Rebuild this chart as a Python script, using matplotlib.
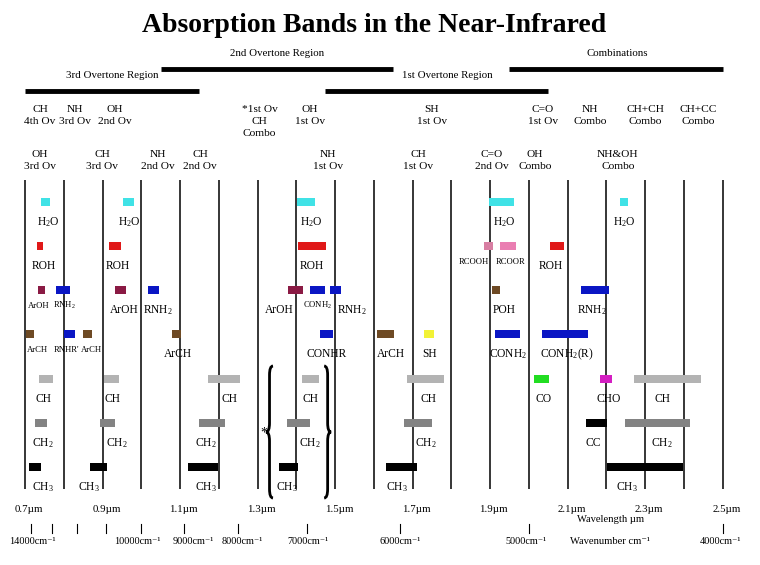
import numpy as np
import matplotlib
matplotlib.use("Agg")
import matplotlib.pyplot as plt
from matplotlib.path import Path
from matplotlib.patches import PathPatch

plt.rcParams['font.family'] = ['Liberation Serif', 'DejaVu Serif']
plt.rcParams['mathtext.fontset'] = 'custom'
plt.rcParams['mathtext.rm'] = 'Liberation Serif'
plt.rcParams['mathtext.it'] = 'Liberation Serif:italic'
plt.rcParams['mathtext.bf'] = 'Liberation Serif:bold'

# ---- data (wavelengths in um) ----
region_names = ["3rd Overtone Region", "2nd Overtone Region", "1st Overtone Region", "Combinations"]
region_start = [0.700, 1.051, 1.474, 1.949]
region_end = [1.149, 1.650, 2.050, 2.501]
region_label_x = [0.925, 1.350, 1.789, 2.228]

top_labels = [("CH\n4th Ov", 0.739), ("NH\n3rd Ov", 0.829), ("OH\n2nd Ov", 0.932),
              ("*1st Ov\nCH\nCombo", 1.305), ("OH\n1st Ov", 1.435), ("SH\n1st Ov", 1.750),
              ("C=O\n1st Ov", 2.037), ("NH\nCombo", 2.158), ("CH+CH\nCombo", 2.300),
              ("CH+CC\nCombo", 2.437)]
second_labels = [("OH\n3rd Ov", 0.739), ("CH\n3rd Ov", 0.899), ("NH\n2nd Ov", 1.043),
                 ("CH\n2nd Ov", 1.152), ("NH\n1st Ov", 1.482), ("CH\n1st Ov", 1.714),
                 ("C=O\n2nd Ov", 1.905), ("OH\nCombo", 2.016), ("NH&OH\nCombo", 2.230)]

# (label, band start, band end, label x)
water = [("H$_2$O", 0.741, 0.765, 0.759), ("H$_2$O", 0.953, 0.981, 0.968),
         ("H$_2$O", 1.402, 1.448, 1.438), ("H$_2$O", 1.897, 1.961, 1.936),
         ("H$_2$O", 2.235, 2.256, 2.246)]
alcohol = [("ROH", 0.731, 0.746, 0.749), ("ROH", 0.917, 0.948, 0.940),
           ("ROH", 1.405, 1.477, 1.441), ("ROH", 2.055, 2.091, 2.057)]
acids = [("RCOOH", 1.885, 1.908, 1.858), ("RCOOR", 1.926, 1.967, 1.954)]
phenol_amine = [("ArOH", 0.932, 0.961, 0.955), ("RNH$_2$", 1.017, 1.046, 1.043),
                ("ArOH", 1.379, 1.417, 1.355), ("RNH$_2$", 1.487, 1.515, 1.544),
                ("POH", 1.905, 1.926, 1.936), ("RNH$_2$", 2.135, 2.207, 2.163)]
phenol_amine_minor = [("ArOH", 0.734, 0.752, 0.736), ("RNH$_2$", 0.780, 0.816, 0.803),
                      ("CONH$_2$", 1.435, 1.474, 1.454)]
aromatic_amide = [("ArCH", 1.079, 1.103, 1.095), ("CONHR", 1.461, 1.495, 1.479),
                  ("ArCH", 1.608, 1.652, 1.645), ("SH", 1.730, 1.755, 1.745),
                  ("CONH$_2$", 1.913, 1.977, 1.946), ("CONH$_2$(R)", 2.034, 2.153, 2.099)]
aromatic_amide_minor = [("ArCH", 0.703, 0.723, 0.731), ("RNHR'", 0.801, 0.829, 0.808),
                        ("ArCH", 0.850, 0.873, 0.872)]
methine = [("CH", 0.736, 0.772, 0.749), ("CH", 0.904, 0.943, 0.927),
           ("CH", 1.172, 1.255, 1.229), ("CH", 1.415, 1.459, 1.438),
           ("CH", 1.686, 1.781, 1.740), ("CO", 2.014, 2.052, 2.037),
           ("CHO", 2.184, 2.215, 2.207), ("CH", 2.272, 2.445, 2.346)]
methylene = [("CH$_2$", 0.726, 0.757, 0.746), ("CH$_2$", 0.894, 0.932, 0.937),
             ("CH$_2$", 1.149, 1.216, 1.167), ("CH$_2$", 1.376, 1.435, 1.435),
             ("CH$_2$", 1.678, 1.750, 1.735), ("CC", 2.148, 2.202, 2.166),
             ("CH$_2$", 2.248, 2.416, 2.344)]
methyl = [("CH$_3$", 0.710, 0.741, 0.746), ("CH$_3$", 0.868, 0.912, 0.865),
          ("CH$_3$", 1.121, 1.198, 1.167), ("CH$_3$", 1.355, 1.405, 1.376),
          ("CH$_3$", 1.632, 1.712, 1.660), ("CH$_3$", 2.202, 2.398, 2.254)]

wl_ticks = [0.7, 0.9, 1.1, 1.3, 1.5, 1.7, 1.9, 2.1, 2.3, 2.5]
wn_ticks = [14000, 13000, 12000, 11000, 10000, 9000, 8000, 7000, 6000, 5000, 4000]
wn_labeled = [14000, 10000, 9000, 8000, 7000, 6000, 5000, 4000]
wn_label_x = [0.718, 0.989, 1.134, 1.260, 1.430, 1.668, 1.993, 2.494]

blue = "#0a16c4"
brown = "#6e4a24"
colors = {"H$_2$O": "#40e2e6", "ROH": "#e01818", "ArOH": "#8a1a44",
          "RNH$_2$": blue, "RNHR'": blue, "CONH$_2$": blue, "CONHR": blue,
          "CONH$_2$(R)": blue, "ArCH": brown, "POH": brown, "SH": "#f2f236",
          "RCOOH": "#d77ea2", "RCOOR": "#ea7eb2", "CH": "#b3b3b3",
          "CH$_2$": "#838383", "CH$_3$": "black", "CC": "black",
          "CO": "#22dd22", "CHO": "#d41ec2"}

# ---- figure: x in um, y in pixels from the top ----
fig = plt.figure(figsize=(7.6, 5.65), dpi=100)
ax = fig.add_axes([0, 0, 1, 1])
px = 387.5  # pixels per um
ax.set_xlim(0.7 - 25 / px, 0.7 + 735 / px)
ax.set_ylim(565, 0)
ax.axis('off')

ax.text(1.6, 32, "Absorption Bands in the Near-Infrared", ha='center', va='baseline',
        fontsize=20, fontweight='bold')

for i, name in enumerate(region_names):
    yb = 91 if i % 2 == 0 else 69
    ax.plot([region_start[i], region_end[i]], [yb, yb], color='black', lw=3.5,
            solid_capstyle='butt')
    ax.text(region_label_x[i], yb - 15, name, ha='center', va='center', fontsize=7.8)

for txt, x in top_labels:
    ax.text(x, 105, txt, ha='center', va='top', fontsize=8.2, linespacing=1.4)
for txt, x in second_labels:
    ax.text(x, 150, txt, ha='center', va='top', fontsize=8.2, linespacing=1.4)

grid = np.round(np.arange(0.7, 2.51, 0.1), 1)
ax.vlines(grid, 180, 489, color='black', lw=1.1)

rows = [(water, 202, False), (alcohol, 246, False), (acids, 246, True),
        (phenol_amine, 290, False), (phenol_amine_minor, 290, True),
        (aromatic_amide, 334, False), (aromatic_amide_minor, 334, True),
        (methine, 379, False), (methylene, 423, False), (methyl, 467, False)]
for bands, y, small in rows:
    for name, lo, hi, lx in bands:
        ax.barh(y, hi - lo, left=lo, height=8, color=colors[name], zorder=3)
        if small:
            ax.text(lx, y + 18, name, ha='center', va='baseline', fontsize=6.2)
        else:
            ax.text(lx, y + 23, name, ha='center', va='baseline', fontsize=8.3)


def brace(x, y0, y1, w, s):
    ym = (y0 + y1) / 2
    r = 9
    verts = [(x - s * w / 2, y0), (x, y0), (x, y0 + r), (x, ym - r), (x, ym),
             (x + s * w / 2, ym), (x, ym), (x, ym + r), (x, y1 - r), (x, y1),
             (x - s * w / 2, y1)]
    codes = [Path.MOVETO, Path.CURVE3, Path.CURVE3, Path.LINETO, Path.CURVE3,
             Path.CURVE3, Path.CURVE3, Path.CURVE3, Path.LINETO, Path.CURVE3, Path.CURVE3]
    ax.add_patch(PathPatch(Path(verts, codes), fill=False, lw=2.0, zorder=4))


brace(1.331, 366, 498, 0.018, -1)
brace(1.481, 366, 498, 0.018, 1)
ax.text(1.316, 433, "*", ha='center', va='center', fontsize=10)

for w in wl_ticks:
    ax.text(w + 0.01, 509, "%.1f\u00b5m" % w, ha='center', va='center', fontsize=7.8)
for n in wn_ticks:
    ax.plot([1e4 / n, 1e4 / n], [524, 533], color='black', lw=0.8)
for n, lx in zip(wn_labeled, wn_label_x):
    ax.text(lx, 541, "%dcm\u207b\u00b9" % n, ha='center', va='center', fontsize=7.4)

ax.text(2.21, 520, "Wavelength \u00b5m", ha='center', va='center', fontsize=7.6)
ax.text(2.21, 541, "Wavenumber cm\u207b\u00b9", ha='center', va='center', fontsize=7.6)

fig.savefig("out.png", dpi=100)
